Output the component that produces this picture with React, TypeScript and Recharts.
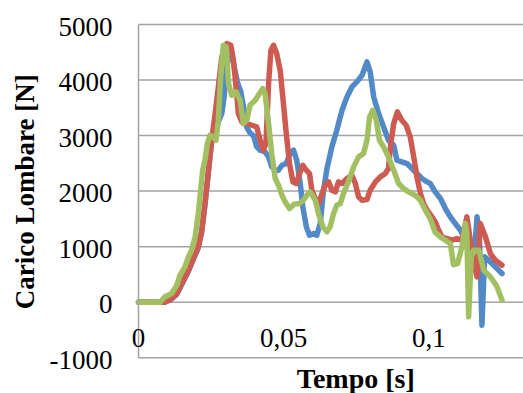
import { LineChart, Line, XAxis, YAxis, CartesianGrid } from "recharts";

// tempo [s] e carico lombare [N], una coppia di array per prova
const tempoBlu = [
  0, 0.0091, 0.0114, 0.0132, 0.0155, 0.0172, 0.0189, 0.0206, 0.0218, 0.0229,
  0.0241, 0.0252, 0.0264, 0.0275, 0.0287, 0.0295, 0.0304, 0.0315, 0.0327,
  0.0341, 0.0352, 0.0364, 0.0373, 0.0384, 0.0396, 0.0407, 0.0419, 0.0436,
  0.0448, 0.0459, 0.0471, 0.0482, 0.0494, 0.0509, 0.0522, 0.0534, 0.0545,
  0.0557, 0.0566, 0.0578, 0.0589, 0.0603, 0.0614, 0.0626, 0.0637, 0.0649,
  0.0666, 0.0683, 0.0701, 0.0718, 0.0735, 0.0752, 0.077, 0.0787, 0.0798,
  0.081, 0.0827, 0.0844, 0.0861, 0.0879, 0.089, 0.0907, 0.0925, 0.0942,
  0.0959, 0.0976, 0.0994, 0.1005, 0.1022, 0.104, 0.1057, 0.1074, 0.1091,
  0.1109, 0.1126, 0.1149, 0.116, 0.1166, 0.1174, 0.1183, 0.1192, 0.1206,
  0.1229, 0.1252,
];
const caricoBlu = [
  0, 0, 60, 140, 380, 560, 770, 980, 1280, 1760, 2360, 2900, 3000, 3250, 3400,
  3700, 4300, 4550, 4300, 3950, 3800, 3450, 3150, 3050, 3000, 2800, 2736, 2706,
  2616, 2436, 2376, 2376, 2466, 2496, 2676, 2736, 2556, 2136, 1716, 1356, 1206,
  1236, 1206, 1416, 2000, 2400, 2796, 3096, 3456, 3696, 3876, 3966, 4086, 4326,
  4146, 3696, 3396, 3156, 2916, 2826, 2556, 2526, 2496, 2406, 2316, 2226, 2166,
  2136, 1986, 1866, 1686, 1536, 1416, 1296, 1116, 900, 1100, 1536, 1200, -414,
  816, 756, 636, 516,
];

const tempoRosso = [
  0, 0.0086, 0.0109, 0.0132, 0.0155, 0.0172, 0.0189, 0.0206, 0.0218, 0.0229,
  0.0241, 0.0252, 0.0264, 0.0275, 0.0287, 0.0304, 0.0318, 0.0327, 0.0336,
  0.0344, 0.0356, 0.0373, 0.039, 0.0407, 0.0419, 0.043, 0.0439, 0.0448, 0.0456,
  0.0465, 0.0476, 0.0488, 0.0497, 0.0509, 0.052, 0.0532, 0.0543, 0.0555,
  0.0566, 0.0578, 0.0589, 0.0597, 0.0609, 0.062, 0.0632, 0.0643, 0.0655,
  0.0666, 0.0678, 0.0689, 0.0701, 0.0718, 0.0735, 0.0747, 0.0758, 0.077,
  0.0787, 0.0798, 0.0816, 0.0833, 0.085, 0.0861, 0.0869, 0.0879, 0.0892,
  0.0907, 0.0922, 0.0936, 0.0948, 0.0959, 0.0971, 0.0982, 0.0994, 0.1011,
  0.1022, 0.1034, 0.1045, 0.1063, 0.108, 0.1097, 0.1114, 0.1131, 0.1143,
  0.1155, 0.1166, 0.1177, 0.1195, 0.1212, 0.1229, 0.1252,
];
const caricoRosso = [
  0, 0, 36, 156, 396, 576, 786, 996, 1296, 1776, 2376, 2916, 3396, 3876, 4416,
  4656, 4626, 4356, 3876, 3396, 3246, 3216, 3186, 3156, 2916, 2736, 2856, 3936,
  4536, 4626, 4476, 4176, 3696, 3036, 2496, 2166, 2136, 2316, 2466, 2376, 2316,
  2016, 1866, 1776, 1956, 2106, 2166, 2016, 1986, 2166, 2136, 2226, 2286, 2136,
  1896, 1836, 1848, 2016, 2166, 2256, 2316, 2406, 2856, 3216, 3426, 3276, 3186,
  2976, 2616, 2256, 1956, 1776, 1656, 1536, 1446, 1296, 1176, 1146, 1116, 1146,
  1116, 1536, 1116, 700, 456, 1416, 1176, 876, 756, 666,
];

const tempoVerde = [
  0, 0.0074, 0.0091, 0.0114, 0.0132, 0.0143, 0.016, 0.0172, 0.0183, 0.0195,
  0.0206, 0.0214, 0.0221, 0.0229, 0.0237, 0.0246, 0.0258, 0.0267, 0.0275,
  0.0283, 0.0292, 0.0302, 0.031, 0.0321, 0.0336, 0.035, 0.0361, 0.0373, 0.0384,
  0.0402, 0.0413, 0.0428, 0.0436, 0.0448, 0.0459, 0.0471, 0.0482, 0.0494,
  0.0505, 0.052, 0.0536, 0.0555, 0.0568, 0.058, 0.0591, 0.0609, 0.062, 0.0635,
  0.0649, 0.066, 0.0672, 0.0683, 0.0695, 0.0706, 0.0723, 0.0741, 0.0758,
  0.0775, 0.0787, 0.0796, 0.0807, 0.0819, 0.083, 0.0844, 0.0861, 0.0879,
  0.0896, 0.0913, 0.093, 0.0953, 0.0971, 0.0988, 0.1005, 0.1022, 0.104, 0.1057,
  0.1074, 0.1085, 0.1099, 0.1114, 0.1126, 0.1131, 0.1137, 0.1146, 0.1154,
  0.1172, 0.1189, 0.1212, 0.1235, 0.1252,
];
const caricoVerde = [
  0, 0, 96, 156, 306, 486, 636, 816, 936, 1176, 1596, 2016, 2376, 2556, 2856,
  3006, 2976, 2916, 3276, 4056, 4626, 4596, 3936, 3726, 3786, 3636, 3216, 3276,
  3546, 3636, 3726, 3846, 3756, 3216, 2676, 2226, 2106, 1926, 1806, 1686, 1764,
  1776, 1836, 1926, 1986, 1836, 1596, 1356, 1266, 1356, 1596, 1746, 1776, 1956,
  2166, 2436, 2616, 2676, 2916, 3336, 3456, 3276, 2916, 2796, 2616, 2376, 2136,
  2046, 1986, 1926, 1836, 1656, 1500, 1256, 1176, 1116, 1056, 676, 696, 996,
  1416, 1236, -264, 816, 936, 936, 576, 456, 276, 36,
];

const yTicks = [-1000, 0, 1000, 2000, 3000, 4000, 5000];
const xTicks = [0, 0.05, 0.1];
const xTickLabels = ["0", "0,05", "0,1"];

const toPoints = (t: number[], v: number[]) => t.map((x, i) => ({ t: x, v: v[i] }));
const serieBlu = toPoints(tempoBlu, caricoBlu);
const serieRosso = toPoints(tempoRosso, caricoRosso);
const serieVerde = toPoints(tempoVerde, caricoVerde);

const FONT = "'Liberation Serif', 'Times New Roman', serif";
const GRID = "#a3a3a3";
const textStyle = { fontFamily: FONT, fontSize: 27, fill: "#000" };

const XTick = (props: any) => {
  const i = xTicks.indexOf(props.payload.value);
  return (
    <text x={props.x} y={347} textAnchor="middle" style={textStyle}>
      {xTickLabels[i] ?? ""}
    </text>
  );
};

const YTick = (props: any) => (
  <text x={112.5} y={props.y + 11} textAnchor="end" style={textStyle}>
    {props.payload.value}
  </text>
);

export default function App() {
  return (
    <div
      style={{
        position: "fixed",
        left: 0,
        top: 0,
        width: 523,
        height: 393,
        overflow: "hidden",
        background: "#fff",
      }}
    >
      <LineChart
        width={584}
        height={393}
        margin={{ top: 24.5, right: 10, left: 0, bottom: 5.3 }}
      >
        <CartesianGrid vertical={false} stroke={GRID} strokeWidth={1.5} />
        <XAxis
          type="number"
          dataKey="t"
          domain={[0, 0.15]}
          ticks={xTicks}
          interval={0}
          axisLine={false}
          tickLine={false}
          height={30}
          tick={<XTick />}
        />
        <YAxis
          type="number"
          domain={[-1000, 5000]}
          ticks={yTicks}
          interval={0}
          width={138.5}
          axisLine={{ stroke: GRID, strokeWidth: 1.5 }}
          tickLine={false}
          tick={<YTick />}
          allowDataOverflow
        />
        <Line data={serieBlu} dataKey="v" stroke="#5289C7" strokeWidth={5.5} dot={false} isAnimationActive={false} strokeLinejoin="round" strokeLinecap="round" />
        <Line data={serieRosso} dataKey="v" stroke="#CD5B52" strokeWidth={5.5} dot={false} isAnimationActive={false} strokeLinejoin="round" strokeLinecap="round" />
        <Line data={serieVerde} dataKey="v" stroke="#A2C062" strokeWidth={5.5} dot={false} isAnimationActive={false} strokeLinejoin="round" strokeLinecap="round" />
      </LineChart>
      <svg
        width={523}
        height={393}
        style={{ position: "absolute", left: 0, top: 0, pointerEvents: "none" }}
      >
        <text
          x={34.5}
          y={191.7}
          transform="rotate(-90, 34.5, 191.7)"
          textAnchor="middle"
          style={{ fontFamily: FONT, fontWeight: "bold", fontSize: 27, fill: "#000" }}
        >
          Carico Lombare [N]
        </text>
        <text
          x={355.8}
          y={388}
          textAnchor="middle"
          style={{ fontFamily: FONT, fontWeight: "bold", fontSize: 28, fill: "#000" }}
        >
          Tempo [s]
        </text>
      </svg>
    </div>
  );
}
